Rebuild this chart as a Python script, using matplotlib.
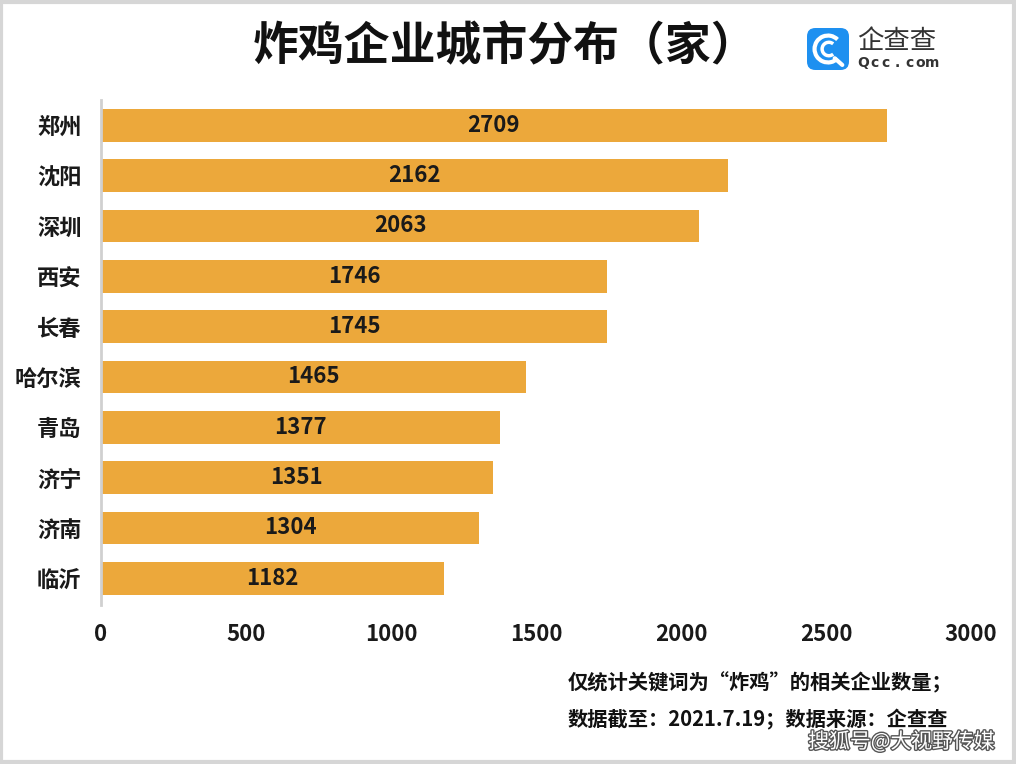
import matplotlib
matplotlib.use("Agg")
import matplotlib.pyplot as plt
from matplotlib.patches import FancyBboxPatch, Rectangle, Arc
import matplotlib.patheffects as pe

plt.rcParams['font.family'] = ['Noto Sans CJK SC', 'DejaVu Sans']

cities = ["郑州", "沈阳", "深圳", "西安", "长春", "哈尔滨", "青岛", "济宁", "济南", "临沂"]
counts = [2709, 2162, 2063, 1746, 1745, 1465, 1377, 1351, 1304, 1182]
xticks = [0, 500, 1000, 1500, 2000, 2500, 3000]
title = "炸鸡企业城市分布（家）"
note1 = "仅统计关键词为“炸鸡”的相关企业数量；"
note2 = "数据截至：2021.7.19；数据来源：企查查"
watermark = "搜狐号@大视野传媒"
logo_name = "企查查"
logo_site = "Qcc.com"

W, H = 1016, 764
fig = plt.figure(figsize=(W / 100, H / 100), dpi=100)
fig.patch.set_facecolor("white")

ax = fig.add_axes([101 / W, 1 - 605 / H, 870 / W, 505 / H])
ypos = list(range(len(cities)))
ax.barh(ypos, counts, height=0.65, color="#ECA83B", zorder=2)
for y, v in zip(ypos, counts):
    ax.text(v / 2, y, str(v), ha="center", va="center", fontsize=16,
            fontweight="bold", color="#1a1a1a", zorder=3)
ax.set_ylim(len(cities) - 0.47, -0.5)
ax.set_xlim(0, 3000)
ax.set_yticks(ypos)
ax.set_yticklabels(cities, fontsize=16, fontweight="bold", color="#1a1a1a")
ax.set_xticks(xticks)
ax.set_xticklabels([str(t) for t in xticks], fontsize=16, fontweight="bold", color="#1a1a1a")
ax.tick_params(axis="both", length=0)
ax.tick_params(axis="y", pad=14)
ax.tick_params(axis="x", pad=13)
for s in ["top", "right", "bottom"]:
    ax.spines[s].set_visible(False)
ax.spines["left"].set_color("#d0d0d0")
ax.spines["left"].set_linewidth(2)

# Title
fig.text(505 / W, 1 - 47 / H, title, ha="center", va="center", fontsize=33,
         fontweight="bold", color="#111111")

# Logo
lx, ly, ls = 807, 28, 42
lax = fig.add_axes([lx / W, 1 - (ly + ls) / H, ls / W, ls / H])
lax.set_xlim(0, 1)
lax.set_ylim(0, 1)
lax.axis("off")
lax.add_patch(FancyBboxPatch((0, 0), 1, 1, boxstyle="round,pad=0,rounding_size=0.2",
                             facecolor="#1E90F0", edgecolor="none"))
lax.add_patch(Arc((0.5, 0.5), 0.64, 0.64, theta1=45, theta2=315, color="white", lw=3))
lax.add_patch(Arc((0.52, 0.5), 0.32, 0.32, theta1=50, theta2=310, color="white", lw=2.5))
lax.plot([0.66, 0.84], [0.28, 0.12], color="white", lw=3, solid_capstyle="round")
fig.text(857 / W, 1 - 42 / H, logo_name, ha="left", va="center", fontsize=19, color="#333333")
for i, ch in enumerate(logo_site):
    fig.text((863 + i * 11.5) / W, 1 - 63 / H, ch, ha="center", va="center", fontsize=10,
             color="#333333", fontweight="bold", family=["DejaVu Sans"])

# Notes
fig.text(568 / W, 1 - 683 / H, note1, ha="left", va="center", fontsize=14.6,
         fontweight="bold", color="#111111")
fig.text(568 / W, 1 - 720 / H, note2, ha="left", va="center", fontsize=14.6,
         fontweight="bold", color="#111111")

# Watermark
fig.text(995 / W, 1 - 742 / H, watermark, ha="right", va="center", fontsize=15,
         color="white", path_effects=[pe.withStroke(linewidth=2, foreground="#555555")])

# Border
fig.patches.append(Rectangle((0.001, 0.002), 0.997, 0.996, transform=fig.transFigure,
                             fill=False, edgecolor="#d6d6d6", linewidth=3))

fig.savefig("out.png", dpi=100, facecolor="white")
